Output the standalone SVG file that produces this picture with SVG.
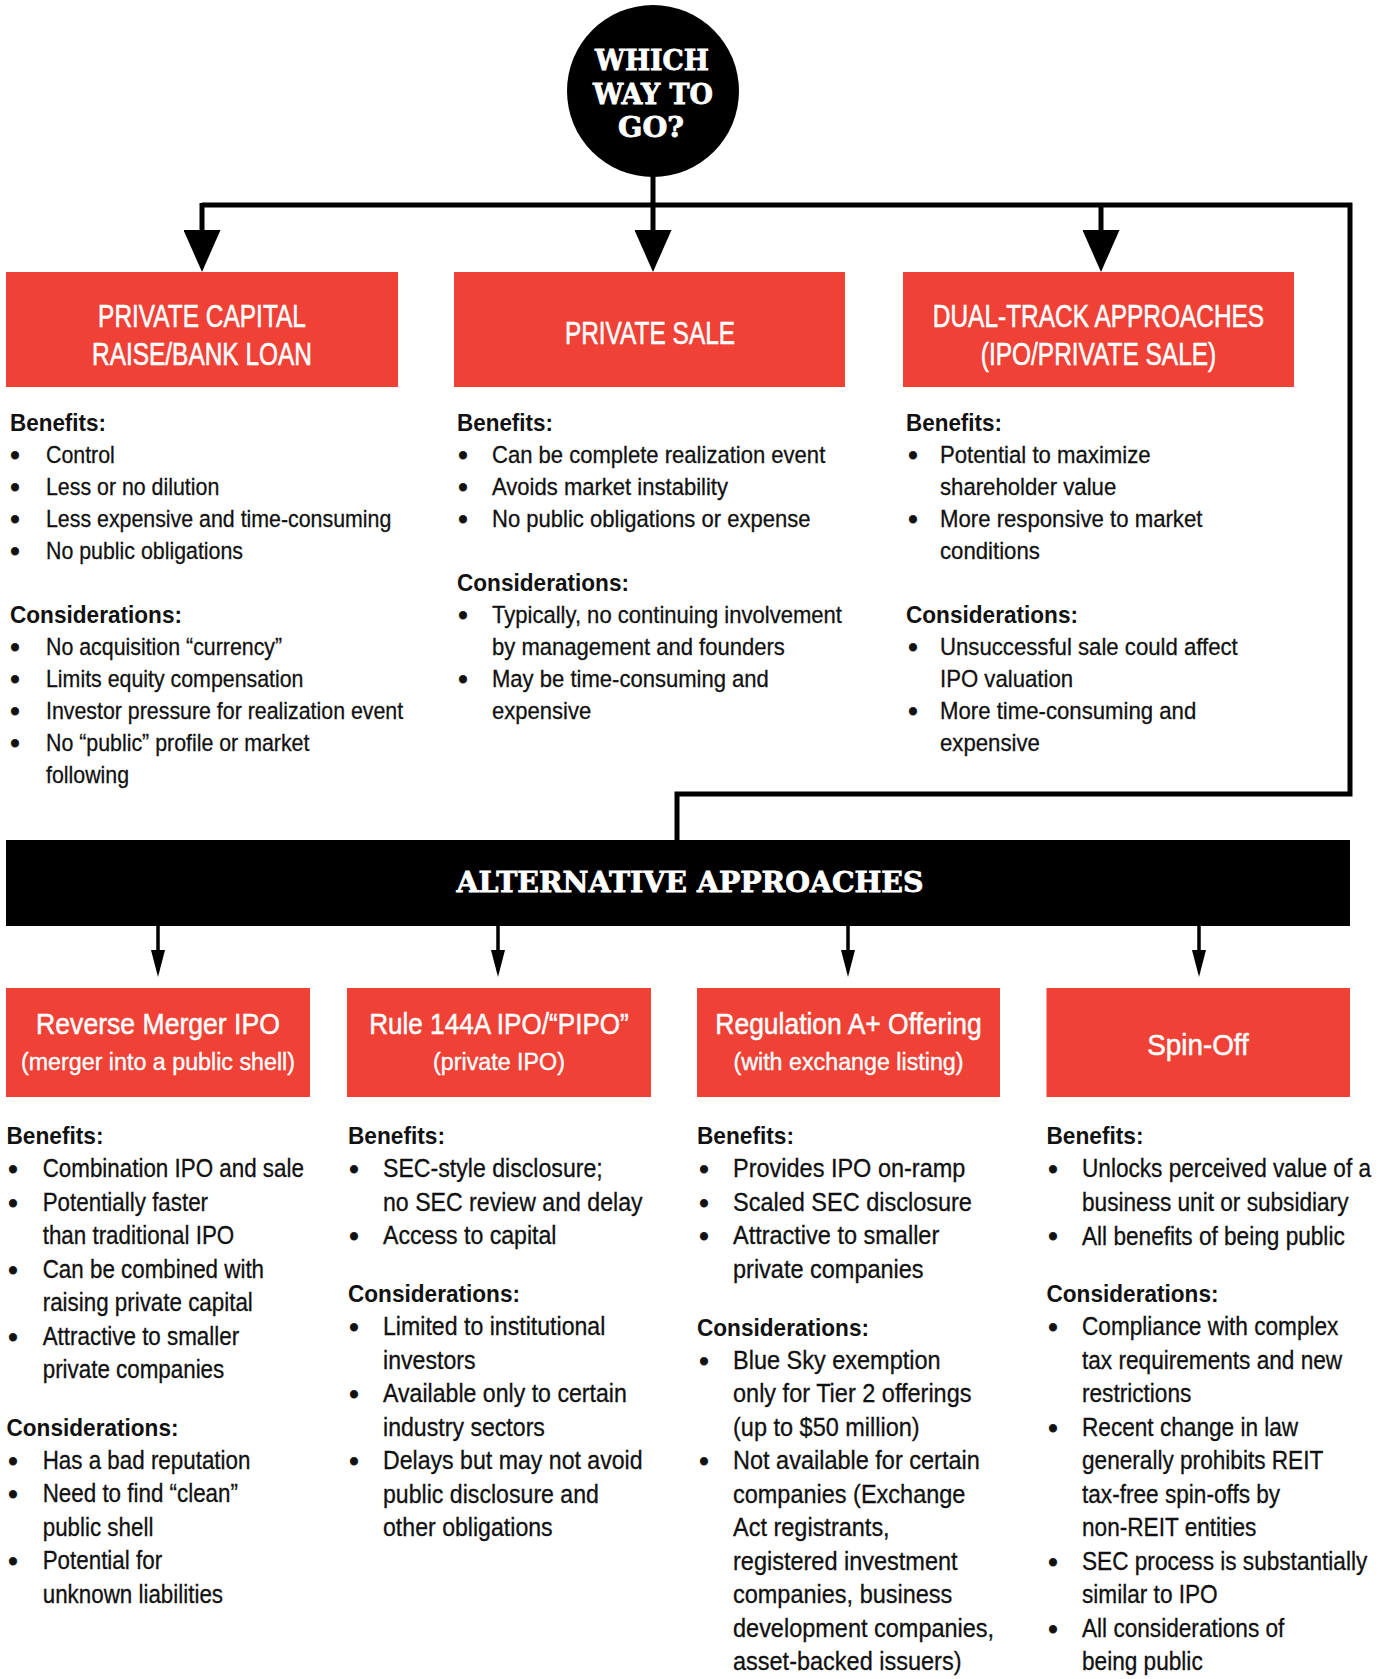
<svg xmlns="http://www.w3.org/2000/svg" width="1385" height="1679" viewBox="0 0 1385 1679">
<style>
.red{fill:#EF4136}
.ht{font-family:"Liberation Sans",Arial,sans-serif;font-size:31.5px;fill:#fff;stroke:#fff;stroke-width:0.6px;text-anchor:middle}
.bt{font-family:"Liberation Sans",Arial,sans-serif;font-size:29px;fill:#fff;stroke:#fff;stroke-width:0.5px;text-anchor:middle}
.bs{font-family:"Liberation Sans",Arial,sans-serif;font-size:24.5px;fill:#fff;stroke:#fff;stroke-width:0.4px;text-anchor:middle}
.slab{font-family:"DejaVu Serif","Liberation Serif",serif;font-weight:bold;fill:#fff;stroke:#fff;stroke-width:0.8px;text-anchor:middle}
.h{font-family:"Liberation Sans",Arial,sans-serif;font-weight:bold;font-size:24.5px;fill:#111}
.t{font-family:"Liberation Sans",Arial,sans-serif;font-size:24.5px;fill:#111;stroke:#111;stroke-width:0.3px}
.t2{font-family:"Liberation Sans",Arial,sans-serif;font-size:25px;fill:#111;stroke:#111;stroke-width:0.3px}
.bu{font-family:"Liberation Sans",Arial,sans-serif;font-size:27px;fill:#111;stroke:#111;stroke-width:0.8px;text-anchor:middle}
.ln{fill:none;stroke:#000;stroke-width:5}
.ln2{fill:none;stroke:#000;stroke-width:3.5}
</style>
<defs>
<marker id="ahBig" viewBox="0 0 42 37" refX="10" refY="18.5" markerWidth="42" markerHeight="37" markerUnits="userSpaceOnUse" orient="auto">
<path d="M0 0 L42 18.5 L0 37 Z" fill="#000"/>
</marker>
<marker id="ahSmall" viewBox="0 0 27 14" refX="8" refY="7" markerWidth="27" markerHeight="14" markerUnits="userSpaceOnUse" orient="auto">
<path d="M0 0 L27 7 L0 14 Z" fill="#000"/>
</marker>
</defs>

<g id="connectors">
<path class="ln" d="M653 170 V205"/>
<path class="ln" d="M202 205 H1350 V794 H677 V840"/>
<path class="ln" d="M202 203 V240" marker-end="url(#ahBig)"/>
<path class="ln" d="M653 203 V240" marker-end="url(#ahBig)"/>
<path class="ln" d="M1101 203 V240" marker-end="url(#ahBig)"/>
<path class="ln2" d="M158 926 V958" marker-end="url(#ahSmall)"/>
<path class="ln2" d="M498 926 V958" marker-end="url(#ahSmall)"/>
<path class="ln2" d="M848 926 V958" marker-end="url(#ahSmall)"/>
<path class="ln2" d="M1199 926 V958" marker-end="url(#ahSmall)"/>
</g>

<g id="which-way">
<circle cx="653" cy="91" r="86" fill="#000"/>
<text class="slab" font-size="28" x="652" y="70" textLength="114" lengthAdjust="spacingAndGlyphs">WHICH</text>
<text class="slab" font-size="28" x="653" y="103.5" textLength="120" lengthAdjust="spacingAndGlyphs">WAY TO</text>
<text class="slab" font-size="28" x="651" y="137" textLength="66" lengthAdjust="spacingAndGlyphs">GO?</text>
</g>

<g id="private-capital">
<rect class="red" x="6" y="272" width="392" height="115"/>
<g transform="translate(202 0) scale(0.776 1)">
<text class="ht" x="0" y="327.5">PRIVATE CAPITAL</text>
<text class="ht" x="0" y="365">RAISE/BANK LOAN</text>
</g>
<text class="h" x="10" y="431" textLength="96" lengthAdjust="spacingAndGlyphs">Benefits:</text>
<text class="h" x="10" y="623" textLength="172" lengthAdjust="spacingAndGlyphs">Considerations:</text>
<g class="bu"><text x="15" y="463.5">•</text><text x="15" y="495.5">•</text><text x="15" y="527.5">•</text><text x="15" y="559.5">•</text><text x="15" y="655.5">•</text><text x="15" y="687.5">•</text><text x="15" y="719.5">•</text><text x="15" y="751.5">•</text></g>
<g class="t" transform="translate(46 0) scale(0.872 1)">
<text x="0" y="463">Control</text>
<text x="0" y="495">Less or no dilution</text>
<text x="0" y="527">Less expensive and time-consuming</text>
<text x="0" y="559">No public obligations</text>
<text x="0" y="655">No acquisition “currency”</text>
<text x="0" y="687">Limits equity compensation</text>
<text x="0" y="719">Investor pressure for realization event</text>
<text x="0" y="751">No “public” profile or market</text>
<text x="0" y="783">following</text>
</g>
</g>

<g id="private-sale">
<rect class="red" x="454" y="272" width="391" height="115"/>
<g transform="translate(650 0) scale(0.776 1)">
<text class="ht" x="0" y="344.5">PRIVATE SALE</text>
</g>
<text class="h" x="457" y="431" textLength="96" lengthAdjust="spacingAndGlyphs">Benefits:</text>
<text class="h" x="457" y="591" textLength="172" lengthAdjust="spacingAndGlyphs">Considerations:</text>
<g class="bu"><text x="463" y="463.5">•</text><text x="463" y="495.5">•</text><text x="463" y="527.5">•</text><text x="463" y="623.5">•</text><text x="463" y="687.5">•</text></g>
<g class="t" transform="translate(492 0) scale(0.9 1)">
<text x="0" y="463">Can be complete realization event</text>
<text x="0" y="495">Avoids market instability</text>
<text x="0" y="527">No public obligations or expense</text>
<text x="0" y="623">Typically, no continuing involvement</text>
<text x="0" y="655">by management and founders</text>
<text x="0" y="687">May be time-consuming and</text>
<text x="0" y="719">expensive</text>
</g>
</g>

<g id="dual-track">
<rect class="red" x="903" y="272" width="391" height="115"/>
<g transform="translate(1098.5 0) scale(0.776 1)">
<text class="ht" x="0" y="327.5">DUAL-TRACK APPROACHES</text>
<text class="ht" x="0" y="365">(IPO/PRIVATE SALE)</text>
</g>
<text class="h" x="906" y="431" textLength="96" lengthAdjust="spacingAndGlyphs">Benefits:</text>
<text class="h" x="906" y="623" textLength="172" lengthAdjust="spacingAndGlyphs">Considerations:</text>
<g class="bu"><text x="913" y="463.5">•</text><text x="913" y="527.5">•</text><text x="913" y="655.5">•</text><text x="913" y="719.5">•</text></g>
<g class="t" transform="translate(940 0) scale(0.905 1)">
<text x="0" y="463">Potential to maximize</text>
<text x="0" y="495">shareholder value</text>
<text x="0" y="527">More responsive to market</text>
<text x="0" y="559">conditions</text>
<text x="0" y="655">Unsuccessful sale could affect</text>
<text x="0" y="687">IPO valuation</text>
<text x="0" y="719">More time-consuming and</text>
<text x="0" y="751">expensive</text>
</g>
</g>

<g id="alternative-approaches">
<rect x="6" y="840" width="1344" height="86" fill="#000"/>
<text class="slab" font-size="28" x="690" y="892" textLength="467" lengthAdjust="spacingAndGlyphs">ALTERNATIVE APPROACHES</text>
</g>

<g id="reverse-merger">
<rect class="red" x="6" y="988" width="304" height="109"/>
<g transform="translate(158 0) scale(0.917 1)"><text class="bt" x="0" y="1034">Reverse Merger IPO</text></g>
<g transform="translate(158 0) scale(0.95 1)"><text class="bs" x="0" y="1070.5">(merger into a public shell)</text></g>
<text class="h" x="6.5" y="1144" textLength="97" lengthAdjust="spacingAndGlyphs">Benefits:</text>
<text class="h" x="6.5" y="1435.5" textLength="172" lengthAdjust="spacingAndGlyphs">Considerations:</text>
<g class="bu"><text x="13" y="1178">•</text><text x="13" y="1211.5">•</text><text x="13" y="1278.5">•</text><text x="13" y="1345.5">•</text><text x="13" y="1469.5">•</text><text x="13" y="1503">•</text><text x="13" y="1570">•</text></g>
<g class="t2" transform="translate(42.7 0) scale(0.895 1)">
<text x="0" y="1177.5">Combination IPO and sale</text>
<text x="0" y="1211">Potentially faster</text>
<text x="0" y="1244.5">than traditional IPO</text>
<text x="0" y="1278">Can be combined with</text>
<text x="0" y="1311.5">raising private capital</text>
<text x="0" y="1345">Attractive to smaller</text>
<text x="0" y="1378.5">private companies</text>
<text x="0" y="1469">Has a bad reputation</text>
<text x="0" y="1502.5">Need to find “clean”</text>
<text x="0" y="1536">public shell</text>
<text x="0" y="1569.5">Potential for</text>
<text x="0" y="1603">unknown liabilities</text>
</g>
</g>

<g id="rule-144a">
<rect class="red" x="347" y="988" width="304" height="109"/>
<g transform="translate(499 0) scale(0.9 1)"><text class="bt" x="0" y="1034">Rule 144A IPO/“PIPO”</text></g>
<g transform="translate(499 0) scale(0.95 1)"><text class="bs" x="0" y="1070.5">(private IPO)</text></g>
<text class="h" x="348" y="1144" textLength="97" lengthAdjust="spacingAndGlyphs">Benefits:</text>
<text class="h" x="348" y="1302" textLength="172" lengthAdjust="spacingAndGlyphs">Considerations:</text>
<g class="bu"><text x="354" y="1178">•</text><text x="354" y="1245">•</text><text x="354" y="1336">•</text><text x="354" y="1403">•</text><text x="354" y="1470">•</text></g>
<g class="t2" transform="translate(383 0) scale(0.925 1)">
<text x="0" y="1177.5">SEC-style disclosure;</text>
<text x="0" y="1211">no SEC review and delay</text>
<text x="0" y="1244.5">Access to capital</text>
<text x="0" y="1335.5">Limited to institutional</text>
<text x="0" y="1369">investors</text>
<text x="0" y="1402.5">Available only to certain</text>
<text x="0" y="1436">industry sectors</text>
<text x="0" y="1469.5">Delays but may not avoid</text>
<text x="0" y="1503">public disclosure and</text>
<text x="0" y="1536.5">other obligations</text>
</g>
</g>

<g id="regulation-a">
<rect class="red" x="697" y="988" width="303" height="109"/>
<g transform="translate(848.5 0) scale(0.912 1)"><text class="bt" x="0" y="1034">Regulation A+ Offering</text></g>
<g transform="translate(848.5 0) scale(0.95 1)"><text class="bs" x="0" y="1070.5">(with exchange listing)</text></g>
<text class="h" x="697" y="1144" textLength="97" lengthAdjust="spacingAndGlyphs">Benefits:</text>
<text class="h" x="697" y="1335.5" textLength="172" lengthAdjust="spacingAndGlyphs">Considerations:</text>
<g class="bu"><text x="704" y="1178">•</text><text x="704" y="1211.5">•</text><text x="704" y="1245">•</text><text x="704" y="1369.5">•</text><text x="704" y="1470">•</text></g>
<g class="t2" transform="translate(733 0) scale(0.94 1)">
<text x="0" y="1177.5">Provides IPO on-ramp</text>
<text x="0" y="1211">Scaled SEC disclosure</text>
<text x="0" y="1244.5">Attractive to smaller</text>
<text x="0" y="1278">private companies</text>
<text x="0" y="1369">Blue Sky exemption</text>
<text x="0" y="1402.5">only for Tier 2 offerings</text>
<text x="0" y="1436">(up to $50 million)</text>
<text x="0" y="1469.5">Not available for certain</text>
<text x="0" y="1503">companies (Exchange</text>
<text x="0" y="1536.5">Act registrants,</text>
<text x="0" y="1570">registered investment</text>
<text x="0" y="1603.5">companies, business</text>
<text x="0" y="1637">development companies,</text>
<text x="0" y="1670.5">asset-backed issuers)</text>
</g>
</g>

<g id="spin-off">
<rect class="red" x="1046.5" y="988" width="303.5" height="109"/>
<g transform="translate(1198 0) scale(0.96 1)"><text class="bt" x="0" y="1055">Spin-Off</text></g>
<text class="h" x="1046.5" y="1144" textLength="97" lengthAdjust="spacingAndGlyphs">Benefits:</text>
<text class="h" x="1046.5" y="1302" textLength="172" lengthAdjust="spacingAndGlyphs">Considerations:</text>
<g class="bu"><text x="1053" y="1178">•</text><text x="1053" y="1245">•</text><text x="1053" y="1336">•</text><text x="1053" y="1436.5">•</text><text x="1053" y="1570.5">•</text><text x="1053" y="1637.5">•</text></g>
<g class="t2" transform="translate(1082 0) scale(0.905 1)">
<text x="0" y="1177.5">Unlocks perceived value of a</text>
<text x="0" y="1211">business unit or subsidiary</text>
<text x="0" y="1244.5">All benefits of being public</text>
<text x="0" y="1335.5">Compliance with complex</text>
<text x="0" y="1369">tax requirements and new</text>
<text x="0" y="1402.5">restrictions</text>
<text x="0" y="1436">Recent change in law</text>
<text x="0" y="1469.5">generally prohibits REIT</text>
<text x="0" y="1503">tax-free spin-offs by</text>
<text x="0" y="1536.5">non-REIT entities</text>
<text x="0" y="1570">SEC process is substantially</text>
<text x="0" y="1603.5">similar to IPO</text>
<text x="0" y="1637">All considerations of</text>
<text x="0" y="1670.5">being public</text>
</g>
</g>
</svg>
